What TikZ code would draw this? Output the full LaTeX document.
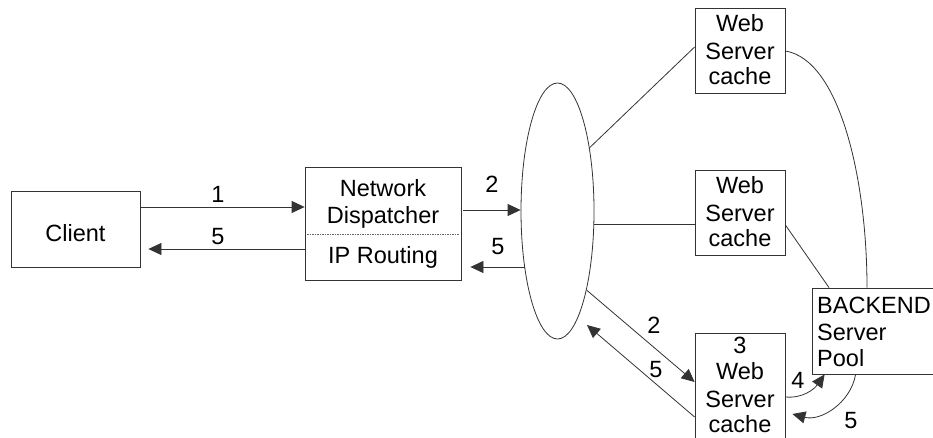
\documentclass[tikz,border=0pt]{standalone}
\usepackage{fontspec}
\setmainfont{Liberation Sans}
\usetikzlibrary{arrows.meta,calc,shapes.geometric}
\begin{document}
\begin{tikzpicture}[x=1pt,y=-1pt,
  box/.style={draw=black!80, line width=0.8pt, inner sep=0pt},
  txt/.style={font=\fontsize{23.5}{26}\selectfont, inner sep=0pt, anchor=base, text=black},
  conn/.style={draw=black!80, line width=0.8pt},
  arr/.style={conn, -{Triangle[length=13pt,width=12pt]}},
  sep/.style={draw=black!60, line width=0.6pt, dash pattern=on 1.5pt off 1pt}]
\useasboundingbox (0,0) rectangle (933,438);
\clip (0,0) rectangle (933,438);
% boxes
\node[box, minimum width=129pt, minimum height=76pt] (client) at (75.5,229) {};
\node[box, minimum width=156pt, minimum height=113pt] (disp) at (383,223.5) {};
\node[box, ellipse, minimum width=73pt, minimum height=256pt] (ell) at (557.5,211) {};
\node[box, minimum width=90pt, minimum height=85pt] (ws1) at (740,50.5) {};
\node[box, minimum width=90pt, minimum height=85pt] (ws2) at (740,212.5) {};
\node[box, minimum width=90pt, minimum height=127pt] (ws3) at (740,396.5) {};
\node[box, minimum width=148pt, minimum height=86pt] (back) at (886,331) {};
% texts
\node[txt] (tclient) at (75.5,241) {Client};
\node[txt] (tnet) at (383,197) {Network};
\node[txt] (tdisp) at (383,224) {Dispatcher};
\node[txt] (tip) at (383,263) {IP Routing};
\coordinate (sepl) at (307,234);
\coordinate (sepr) at (459,234);
\draw[sep] (sepl) -- (sepr);
\node[txt] (w1a) at (740,32) {Web};
\node[txt] (w1b) at (740,60) {Server};
\node[txt] (w1c) at (740,85) {cache};
\node[txt] (w2a) at (740,194) {Web};
\node[txt] (w2b) at (740,222) {Server};
\node[txt] (w2c) at (740,247) {cache};
\node[txt] (w3n) at (740,353) {3};
\node[txt] (w3a) at (740,379) {Web};
\node[txt] (w3b) at (740,407) {Server};
\node[txt] (w3c) at (740,432) {cache};
\node[txt, anchor=base west] (ba) at (817,313) {BACKEND};
\node[txt, anchor=base west] (bb) at (817,340) {Server};
\node[txt, anchor=base west] (bc) at (817,366) {Pool};
% number labels
\node[txt] (l1) at (218,203) {1};
\node[txt] (l5a) at (218,244) {5};
\node[txt] (l2a) at (492,193) {2};
\node[txt] (l5b) at (498,254) {5};
\node[txt] (l2b) at (654,333) {2};
\node[txt] (l5c) at (656,377) {5};
\node[txt] (l4) at (798,388) {4};
\node[txt] (l5d) at (851,428) {5};
% connectors
\draw[arr] (client.east |- 0,207) -- (disp.west |- 0,207);
\draw[arr] (disp.west |- 0,249) -- ($(client.east |- 0,249)+(8,0)$);
\draw[arr] ($(disp.east |- 0,210)+(2,0)$) -- (ell.west |- 0,210);
\draw[arr] ($(ell.center)+(-33,56)$) -- ($(disp.east |- 0,267)+(9,0)$);
\draw[conn] ($(ell.center)+(31.8,-63)$) -- (ws1.west |- 0,47);
\draw[conn] ($(ell.center)+(36.3,13)$) -- (ws2.west |- 0,224);
\draw[conn] (ws2.east |- 0,225) -- (back.north west -| 829,0);
\draw[conn] (ws1.east |- 0,51) .. controls (840,60) and (867,180) .. (back.north west -| 867,0);
\draw[arr] ($(ell.center)+(29,79)$) -- (ws3.west |- 0,382);
\draw[arr] (ws3.west |- 0,417) -- ($(ell.center)+(29.5,114)$);
\draw[arr] (ws3.east |- 0,397) to[out=-5,in=235] ($(back.south west)+(13,0)$);
\draw[arr] ($(back.south west)+(44,0)$) to[out=-100,in=-15] ($(ws3.east |- 0,414)+(7,0)$);
\end{tikzpicture}
\end{document}
